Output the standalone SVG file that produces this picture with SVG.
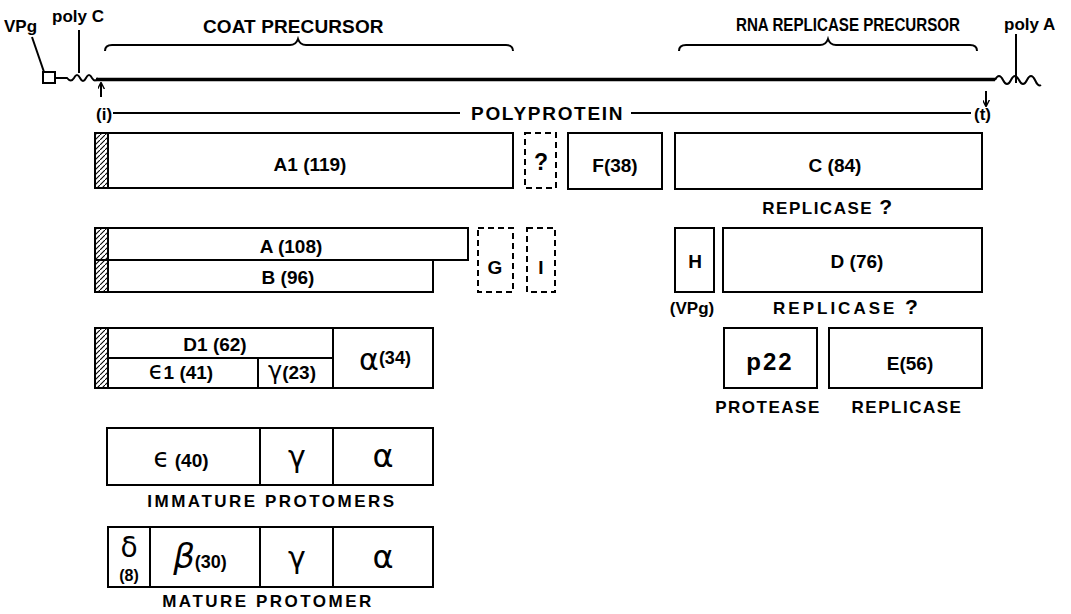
<svg xmlns="http://www.w3.org/2000/svg" width="1071" height="614" viewBox="0 0 1071 614">
<defs>
<pattern id="hatch" patternUnits="userSpaceOnUse" width="5" height="5">
<path d="M-1,6 L6,-1" stroke="#000" stroke-width="1.1"/>
</pattern>
<marker id="ah" viewBox="0 0 10 10" refX="9" refY="5" markerWidth="7" markerHeight="7" orient="auto" markerUnits="userSpaceOnUse">
<path d="M0,0 L10,5 L0,10" fill="none" stroke="#000" stroke-width="2"/>
</marker>
</defs>
<style>
text{font-family:"Liberation Sans","DejaVu Sans",sans-serif;font-weight:bold;fill:#000}
.lbl{font-size:19px;text-anchor:middle}
.cap{font-size:17px;text-anchor:middle;letter-spacing:1.5px}
.big{font-size:19px;letter-spacing:1.5px}
.sm{font-size:17px}
.gk{font-family:"DejaVu Sans",sans-serif;font-weight:normal;text-anchor:middle}
.box{fill:#fff;stroke:#000;stroke-width:2}
.dash{fill:#fff;stroke:#000;stroke-width:2;stroke-dasharray:6 4}
.hat{fill:url(#hatch);stroke:#000;stroke-width:2}
.ln{fill:none;stroke:#000;stroke-width:2}
</style>
<rect width="1071" height="614" fill="#fff"/>

<g id="genome">
<path class="ln" d="M32,37 L44,72"/>
<rect x="43" y="72" width="12" height="11" fill="#fff" stroke="#000" stroke-width="2"/>
<path class="ln" d="M55,78 L67,78 q4,5 7,0 q3,-6 6,0 q3,6 6,0 q3,-6 6,0 q3,5 6,0"/>
<path class="ln" d="M79,30 L79,73"/>
<path d="M96,79.5 L995,79.5" stroke="#000" stroke-width="3.5" fill="none"/>
<path class="ln" d="M995,80 q4,-8 8,0 q4,8 8,0 q4,-8 8,0 q4,8 8,0 q4,-8 8,0 q3,7 6,5"/>
<path class="ln" d="M1016,34 L1016,83"/>
<text class="sm" x="4" y="32">VPg</text>
<text class="sm" x="52" y="22">poly C</text>
<text class="sm" x="1004" y="30">poly A</text>
</g>

<g id="coat-precursor">
<path class="ln" d="M105,51 q0,-6 7,-6 L290,45 q6,0 8,-6 q2,6 8,6 L506,45 q7,0 7,6"/>
<text class="big" x="294" y="33" text-anchor="middle" textLength="182" lengthAdjust="spacing">COAT PRECURSOR</text>
</g>

<g id="replicase-precursor">
<path class="ln" d="M679,51 q0,-6 7,-6 L820,45 q6,0 8,-6 q2,6 8,6 L970,45 q7,0 7,6"/>
<text x="848" y="31" text-anchor="middle" style="font-size:18px" textLength="224" lengthAdjust="spacingAndGlyphs">RNA REPLICASE PRECURSOR</text>
</g>

<g id="polyprotein">
<text class="sm" x="96" y="120">(i)</text>
<text class="big" x="471" y="120" textLength="153" lengthAdjust="spacing">POLYPROTEIN</text>
<text class="sm" x="974" y="120">(t)</text>
</g>

<g id="connectors">
<path class="ln" d="M113,113 L460,113"/>
<path class="ln" d="M631,113 L971,113"/>
<path class="ln" d="M101,97 L101,83" marker-end="url(#ah)"/>
<path class="ln" d="M986,91 L986,106" marker-end="url(#ah)"/>
</g>

<g id="A1">
<rect class="box" x="95" y="133" width="418" height="55"/>
<rect class="hat" x="95" y="133" width="13" height="55"/>
<text class="lbl" x="310" y="171">A1 (119)</text>
</g>
<g id="unknown">
<rect class="dash" x="525" y="133" width="31" height="55"/>
<text class="lbl" x="541" y="170" style="font-size:23px">?</text>
</g>
<g id="F">
<rect class="box" x="568" y="133" width="94" height="56"/>
<text class="lbl" x="615" y="172">F(38)</text>
</g>
<g id="C">
<rect class="box" x="675" y="133" width="307" height="56"/>
<text class="lbl" x="835" y="172">C (84)</text>
<text class="cap" x="828" y="214">REPLICASE <tspan style="font-size:21px">?</tspan></text>
</g>

<g id="A">
<rect class="box" x="95" y="228" width="373" height="32"/>
<text class="lbl" x="291" y="253">A (108)</text>
</g>
<g id="B">
<rect class="box" x="95" y="260" width="338" height="32"/>
<rect class="hat" x="95" y="228" width="13" height="64"/>
<text class="lbl" x="288" y="284">B (96)</text>
</g>
<g id="G">
<rect class="dash" x="478" y="228" width="35" height="64"/>
<text class="lbl" x="495" y="274">G</text>
</g>
<g id="I">
<rect class="dash" x="527" y="228" width="28" height="64"/>
<text class="lbl" x="541" y="274">I</text>
</g>
<g id="H">
<rect class="box" x="675" y="228" width="39" height="64"/>
<text class="lbl" x="695" y="268">H</text>
<text class="lbl" x="692" y="314" style="font-size:17px">(VPg)</text>
</g>
<g id="D">
<rect class="box" x="723" y="228" width="259" height="64"/>
<text class="lbl" x="857" y="268">D (76)</text>
<text class="cap" x="847" y="314" style="letter-spacing:3px">REPLICASE <tspan style="font-size:21px">?</tspan></text>
</g>
<g id="p22">
<rect class="box" x="724" y="328" width="93" height="60"/>
<text class="lbl" x="770" y="370" style="font-size:24px;letter-spacing:2px">p22</text>
<text class="cap" x="768" y="413">PROTEASE</text>
</g>
<g id="E">
<rect class="box" x="829" y="328" width="153" height="60"/>
<text class="lbl" x="910" y="370">E(56)</text>
<text class="cap" x="907" y="413">REPLICASE</text>
</g>

<g id="D1">
<rect class="box" x="95" y="328" width="338" height="60"/>
<path class="ln" d="M108,358 L333,358 M258,358 L258,388 M333,328 L333,388"/>
<rect class="hat" x="95" y="328" width="13" height="60"/>
<text class="lbl" x="215" y="351">D1 (62)</text>
<text class="lbl" x="181" y="379"><tspan class="gk" style="font-size:24px">ϵ</tspan>1 (41)</text>
<text class="lbl" x="292" y="379"><tspan class="gk" style="font-size:24px">γ</tspan>(23)</text>
<text class="lbl" x="385" y="370"><tspan class="gk" style="font-size:30px">α</tspan><tspan dy="-6" style="font-size:18px">(34)</tspan></text>
</g>

<g id="immature">
<rect class="box" x="107" y="428" width="326" height="57"/>
<path class="ln" d="M260,428 L260,485 M333,428 L333,485"/>
<text class="lbl" x="181" y="467"><tspan class="gk" style="font-size:26px">ϵ</tspan> (40)</text>
<text class="gk" x="297" y="467" style="font-size:30px">γ</text>
<text class="gk" x="383" y="467" style="font-size:32px">α</text>
<text class="cap" x="272" y="507" style="letter-spacing:2.5px">IMMATURE PROTOMERS</text>
</g>

<g id="mature">
<rect class="box" x="108" y="527" width="325" height="60"/>
<path class="ln" d="M150,527 L150,587 M260,527 L260,587 M333,527 L333,587"/>
<text class="gk" x="129" y="557" style="font-size:28px">δ</text>
<text class="lbl" x="129" y="581" style="font-size:16px">(8)</text>
<text class="lbl" x="200" y="568"><tspan class="gk" style="font-size:34px;font-style:italic">β</tspan><tspan style="font-size:18px">(30)</tspan></text>
<text class="gk" x="297" y="568" style="font-size:30px">γ</text>
<text class="gk" x="383" y="568" style="font-size:32px">α</text>
<text class="cap" x="268" y="607" style="letter-spacing:2.5px">MATURE PROTOMER</text>
</g>
</svg>
